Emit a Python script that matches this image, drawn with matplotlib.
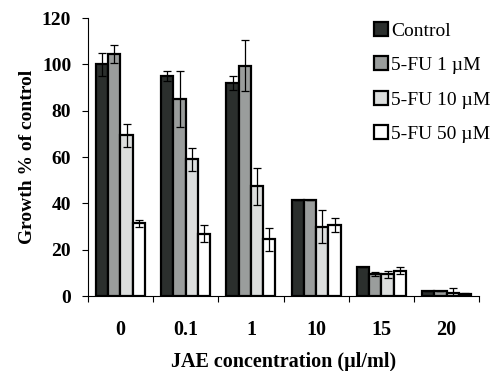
import matplotlib
matplotlib.use("Agg")
import matplotlib.pyplot as plt
import numpy as np

categories = ["0", "0.1", "1", "10", "15", "20"]
series_names = ["Control", "5-FU 1 \u00b5M", "5-FU 10 \u00b5M", "5-FU 50 \u00b5M"]
control = [100, 95, 92, 41.5, 12.5, 2]
fu1 = [104.5, 85, 99.5, 41.5, 9.5, 2]
fu10 = [69.5, 59, 47.5, 30, 9.5, 1.5]
fu50 = [31.5, 27, 24.5, 30.5, 11, 1]
control_err = [5, 2, 3, 0, 0, 0]
fu1_err = [4, 12, 11, 0, 1, 0]
fu10_err = [5, 5, 8, 7, 1.5, 2]
fu50_err = [1.5, 3.5, 5, 3, 1.5, 0.5]

colors = ["#2b2f2d", "#9a9d9c", "#dcdedd", "#ffffff"]

plt.rcParams['font.family'] = ['Liberation Serif', 'DejaVu Serif']

fig = plt.figure(figsize=(4.91, 3.71), dpi=100)
ax = fig.add_axes([0.179, 0.202, 0.797, 0.749])

x = np.arange(len(categories))
w = 0.188
data = [control, fu1, fu10, fu50]
errs = [control_err, fu1_err, fu10_err, fu50_err]
for i, (vals, e) in enumerate(zip(data, errs)):
    pos = x + (i - 1.5) * w
    ax.bar(pos, vals, width=w, color=colors[i], edgecolor="black", linewidth=1.6,
           label=series_names[i], zorder=2)
    ax.errorbar(pos, vals, yerr=e, fmt="none", ecolor="black", elinewidth=0.9,
                capsize=3, capthick=0.9, zorder=3)

ax.set_xlim(-0.5, len(categories) - 0.5)
ax.set_ylim(0, 120)
ax.set_yticks(np.arange(0, 121, 20))
ax.set_xticks(x)
ax.set_xticklabels(categories, fontweight='bold')
ax.set_yticklabels([str(v) for v in range(0, 121, 20)], fontweight='bold')
ax.set_xticks(np.arange(-0.5, len(categories), 1), minor=True)
ax.tick_params(axis='x', which='major', length=0, pad=17, labelsize=14.5)
ax.tick_params(axis='x', which='minor', length=4, width=0.8, direction='out')
ax.tick_params(axis='y', length=4, width=0.8, direction='out', labelsize=14, pad=8)
for s in ["top", "right"]:
    ax.spines[s].set_visible(False)
ax.spines["left"].set_linewidth(0.8)
ax.spines["bottom"].set_linewidth(0.8)

ax.set_xlabel("JAE concentration (\u00b5l/ml)", fontsize=14.5, fontweight='bold', labelpad=9)
ax.set_ylabel("Growth % of control", fontsize=14, fontweight='bold', labelpad=4)

leg = ax.legend(loc="upper left", bbox_to_anchor=(0.71, 1.015), frameon=False,
                prop={'size': 14, 'weight': 'normal'}, handlelength=0.75, handleheight=0.75,
                handletextpad=0.15, labelspacing=0.85, borderaxespad=0)

fig.savefig("out.png", dpi=100)
